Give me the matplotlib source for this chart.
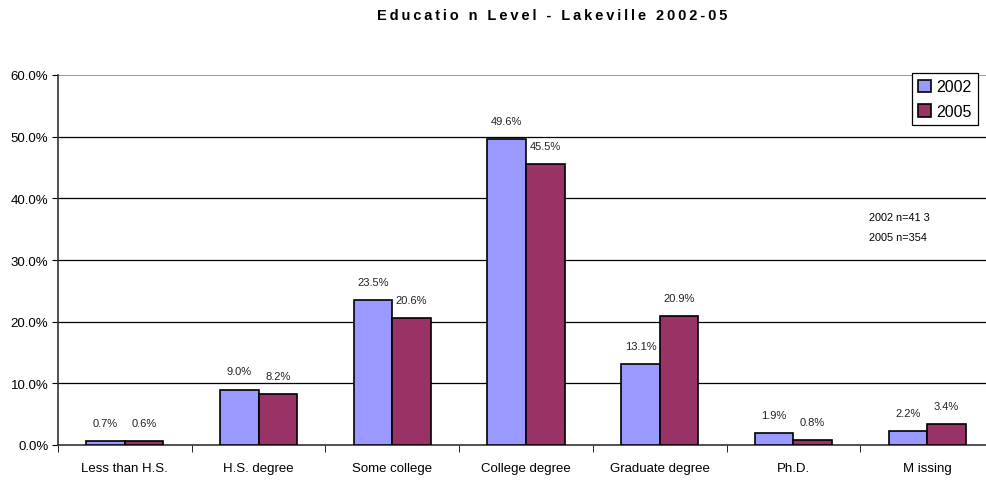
import matplotlib.pyplot as plt
import numpy as np

plt.rcParams['font.family'] = ['Liberation Sans', 'DejaVu Sans']

categories = ['Less than H.S.', 'H.S. degree', 'Some college', 'College degree',
              'Graduate degree', 'Ph.D.', 'M issing']
pct_2002 = [0.7, 9.0, 23.5, 49.6, 13.1, 1.9, 2.2]
pct_2005 = [0.6, 8.2, 20.6, 45.5, 20.9, 0.8, 3.4]
yticks = [0, 10, 20, 30, 40, 50, 60]
title = 'Educatio n Level - Lakeville 2002-05'

fig = plt.figure(figsize=(9.87, 4.81), dpi=100)
ax = fig.add_axes([58 / 987, 35 / 481, 936 / 987, 370 / 481])

x = np.arange(len(categories))
w = 0.288
ax.bar(x - w / 2, pct_2002, w, color='#9999FF', edgecolor='black', linewidth=1.2,
       label='2002', zorder=3)
ax.bar(x + w / 2, pct_2005, w, color='#993366', edgecolor='black', linewidth=1.2,
       label='2005', zorder=3)

for xi, v in zip(x - w / 2, pct_2002):
    ax.annotate('{:.1f}%'.format(v), (xi, v), xytext=(0, 13), textcoords='offset points',
                ha='center', va='center', fontsize=8, color='#222222')
for xi, v in zip(x + w / 2, pct_2005):
    ax.annotate('{:.1f}%'.format(v), (xi, v), xytext=(0, 13), textcoords='offset points',
                ha='center', va='center', fontsize=8, color='#222222')

ax.set_xlim(-0.5, len(categories) - 0.5)
ax.set_ylim(0, 60)
ax.set_yticks(yticks)
ax.set_yticklabels(['{:.1f}%'.format(t) for t in yticks], fontsize=9.5)
ax.set_xticks(x)
ax.set_xticklabels(categories, fontsize=9.5)
ax.tick_params(axis='x', length=0, pad=12)
ax.set_xticks(np.arange(len(categories) + 1) - 0.5, minor=True)
ax.tick_params(axis='x', which='minor', length=5, direction='out')
ax.tick_params(axis='y', length=4, direction='out', pad=3)

for t in yticks[1:-1]:
    ax.axhline(t, color='black', linewidth=0.9, zorder=1)
ax.axhline(60, color='#888888', linewidth=1.2, zorder=1)

for s in ['top', 'right']:
    ax.spines[s].set_visible(False)
ax.spines['left'].set_linewidth(1.2)
ax.spines['bottom'].set_linewidth(1.2)
ax.spines['left'].set_color('#333333')
ax.spines['bottom'].set_color('#333333')

leg = ax.legend(loc='upper left', bbox_to_anchor=(912 / 987, 1 - 74 / 481),
                bbox_transform=fig.transFigure, fontsize=11.5, frameon=True,
                fancybox=False, edgecolor='black', handlelength=0.8,
                handleheight=0.8, handletextpad=0.3, borderpad=0.4,
                labelspacing=0.6, borderaxespad=0, framealpha=1)
leg.get_frame().set_linewidth(0.9)
leg.set_zorder(5)

fig.text(869 / 987, 1 - 218 / 481, '2002 n=41 3', fontsize=7.8, va='center')
fig.text(869 / 987, 1 - 238 / 481, '2005 n=354', fontsize=7.8, va='center')

# letter-spaced title
fig.text(552 / 987, 1 - 16 / 481, '\u2009'.join(title), fontsize=10.5,
         fontweight='bold', ha='center', va='center')

fig.savefig('out.png', dpi=100)
